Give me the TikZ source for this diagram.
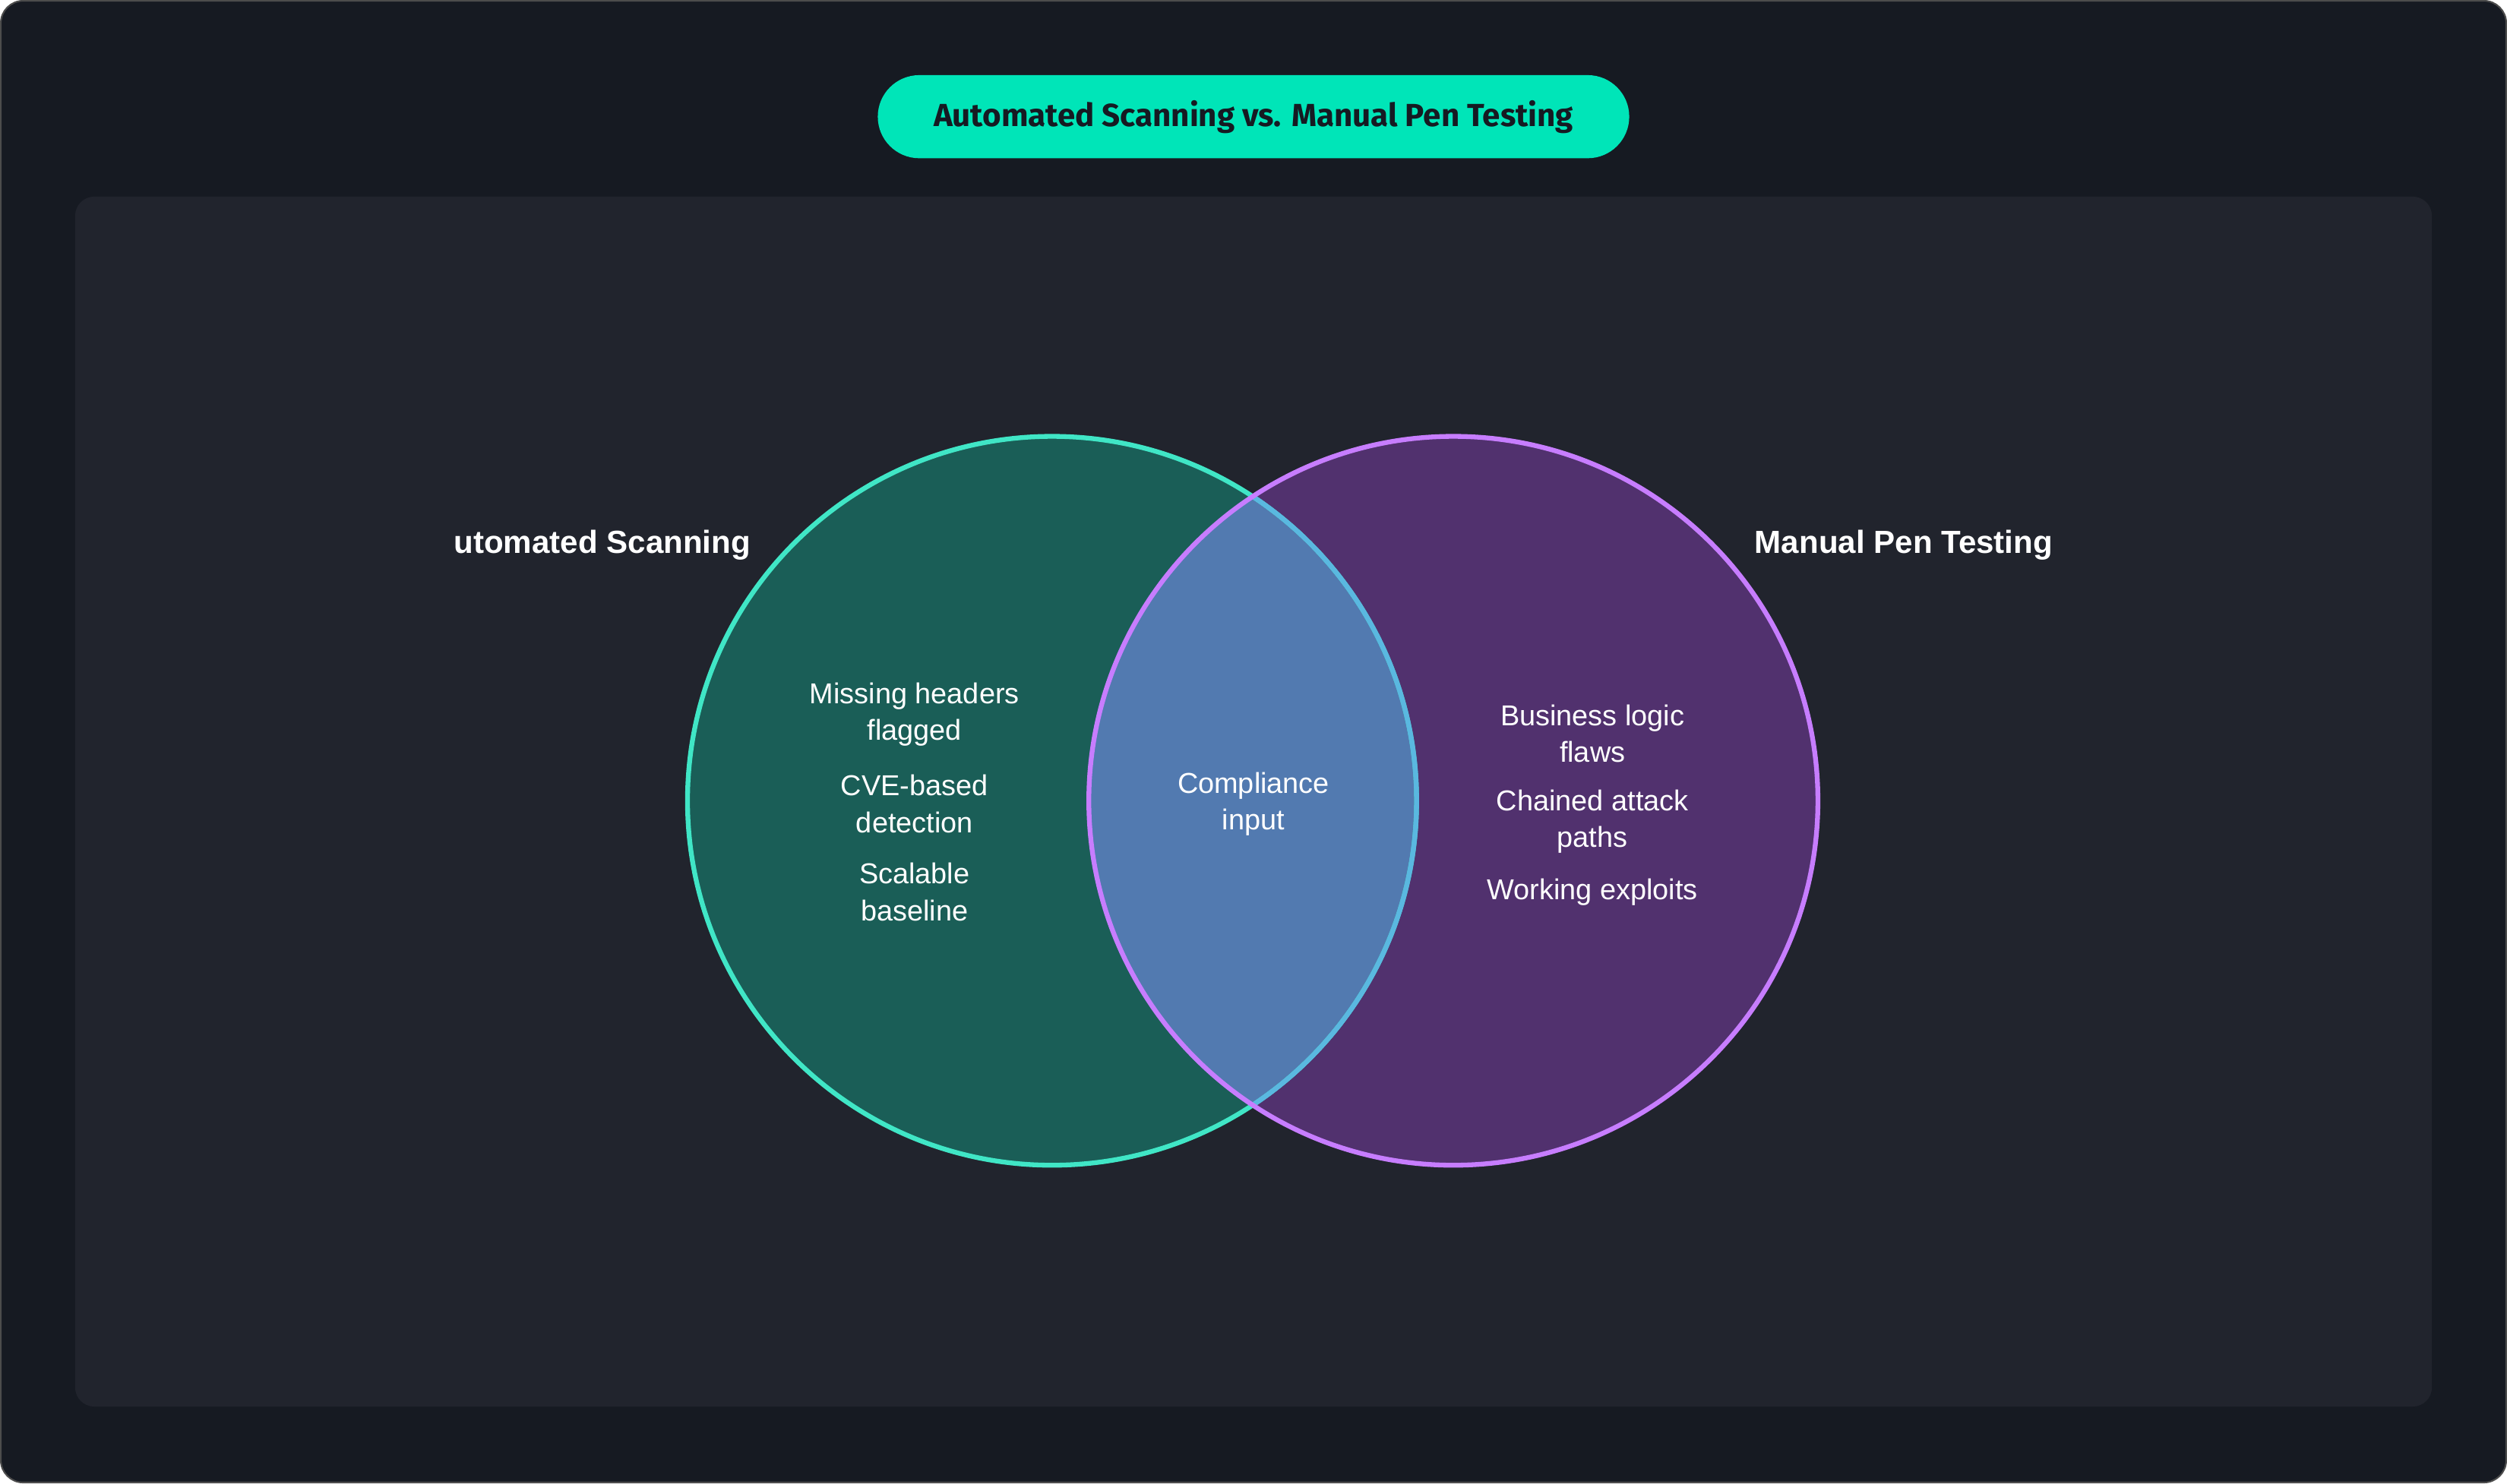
\documentclass[tikz,border=0pt]{standalone}
\usepackage{fontspec}
\setmainfont{Liberation Sans}
\newfontfamily\titlefont{Fira Sans}
\definecolor{bgout}{HTML}{161A22}
\definecolor{bgin}{HTML}{21242D}
\definecolor{pill}{HTML}{00E5B8}
\definecolor{tealfill}{HTML}{1A5E57}
\definecolor{tealline}{HTML}{40E6C6}
\definecolor{purpfill}{HTML}{51316E}
\definecolor{purpline}{HTML}{C77DFF}
\definecolor{midfill}{HTML}{527AB0}
\definecolor{midline}{HTML}{5AB8E0}
\begin{document}
\begin{tikzpicture}[x=1pt,y=-1pt,
  body/.style={text=white,align=center,font=\fontsize{18}{23}\selectfont},
  head/.style={text=white,font=\bfseries\fontsize{20}{24}\selectfont}]
\useasboundingbox (0,0) rectangle (1568,928);
\fill[bgout,draw=gray!60!black,line width=1pt,rounded corners=14pt] (0.5,0.5) rectangle (1567.5,927.5);
\fill[bgin,rounded corners=12pt] (47,123) rectangle (1521,880);
\node[fill=pill,rounded corners=26pt,minimum width=470pt,minimum height=52pt,inner sep=0pt,
  font=\titlefont\bfseries\fontsize{20}{24}\selectfont,text=bgout] (title) at (784,73) {Automated Scanning vs. Manual Pen Testing};
% circles
\coordinate (cl) at (658,501);
\coordinate (cr) at (909,501);
\fill[tealfill] (cl) circle[radius=228];
\fill[purpfill] (cr) circle[radius=228];
\begin{scope}
\clip (cl) circle[radius=228];
\fill[midfill] (cr) circle[radius=228];
\end{scope}
\draw[tealline,line width=3pt] (cl) circle[radius=228];
\begin{scope}
\clip (cr) circle[radius=228];
\draw[midline,line width=3pt] (cl) circle[radius=228];
\end{scope}
\draw[purpline,line width=3pt] (cr) circle[radius=228];
% headings
\begin{scope}
\clip (285,300) rectangle (600,380);
\node[head,anchor=east] (hl) at (473,341) {Automated Scanning};
\end{scope}
\node[head,anchor=west] (hr) at (1094,341) {Manual Pen Testing};
% texts
\node[body] (l1) at (572,447) {Missing headers\\flagged};
\node[body] (l2) at (572,503) {CVE-based\\detection};
\node[body] (l3) at (572,558) {Scalable\\baseline};
\node[body] (m1) at (784,503) {Compliance\\input};
\node[body] (r1) at (996,459) {Business logic\\flaws};
\node[body] (r2) at (996,514) {Chained attack\\paths};
\node[body] (r3) at (996,558) {Working exploits};
\end{tikzpicture}
\end{document}
